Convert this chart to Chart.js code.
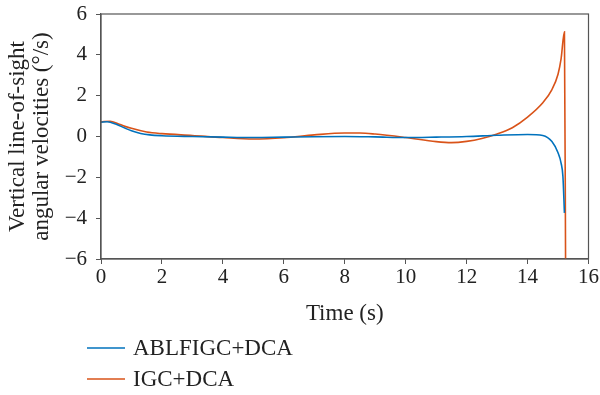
<!DOCTYPE html>
<html>
<head>
<meta charset="utf-8">
<script src="https://cdn.jsdelivr.net/npm/chart.js@4"></script>
<style>
  html, body { margin: 0; padding: 0; background: #fff; }
  #wrap { width: 600px; height: 395px; position: relative; }
</style>
</head>
<body>
<div id="wrap"><canvas id="chart" width="600" height="395"></canvas></div>
<script>
// time (s) and vertical LOS angular velocity (deg/s)
const tBlue = [0, 0.2, 0.5, 0.8, 1.0, 1.3, 1.6, 2, 3, 4, 5, 6, 7, 8, 9, 10, 11, 12, 13, 14, 14.5, 14.8, 15.0, 15.1, 15.16, 15.21];
const vBlue = [0.7, 0.72, 0.6, 0.4, 0.28, 0.15, 0.08, 0.04, 0.0, -0.03, -0.05, -0.03, -0.01, 0.0, -0.02, -0.05, -0.03, 0.0, 0.06, 0.1, 0.05, -0.25, -0.8, -1.3, -1.95, -3.74];

const tOrange = [0, 0.3, 0.6, 1.0, 1.5, 2, 3, 4, 5, 6, 7, 8, 8.5, 9, 10, 11, 11.5, 12, 12.5, 13, 13.5, 14, 14.5, 14.8, 15.0, 15.1, 15.21, 15.25];
const vOrange = [0.72, 0.75, 0.6, 0.4, 0.22, 0.14, 0.05, -0.05, -0.12, -0.06, 0.08, 0.17, 0.17, 0.12, -0.05, -0.25, -0.3, -0.24, -0.1, 0.12, 0.43, 0.95, 1.65, 2.3, 3.05, 3.8, 5.13, -7];

const seriesNames = ['ABLFIGC+DCA', 'IGC+DCA'];
const seriesColors = ['#0072BD', '#D95319'];
const xTitle = 'Time (s)';
const yTitle = ['Vertical line-of-sight', 'angular velocities (°/s)'];

const FONT = "'Liberation Serif', 'DejaVu Serif', serif";
const AXIS = '#555';

function pts(t, v) { return t.map((x, i) => ({ x: x, y: v[i] })); }

// box around the plot + legend in a column under the axis
const boxLegend = {
    id: 'boxLegend',
    afterDraw(chart) {
        const ctx = chart.ctx, a = chart.chartArea;
        ctx.save();
        ctx.strokeStyle = AXIS;
        ctx.lineWidth = 1.2;
        ctx.strokeRect(a.left, a.top, a.right - a.left, a.bottom - a.top);

        ctx.font = '23px ' + FONT;
        ctx.textBaseline = 'middle';
        ctx.fillStyle = '#222';
        chart.data.datasets.forEach((ds, i) => {
            const y = 348 + i * 31;
            ctx.strokeStyle = ds.borderColor;
            ctx.lineWidth = 1.5;
            ctx.beginPath();
            ctx.moveTo(87, y);
            ctx.lineTo(125, y);
            ctx.stroke();
            ctx.fillText(ds.label, 133, y + 1);
        });
        ctx.restore();
    }
};

new Chart(document.getElementById('chart').getContext('2d'), {
    type: 'line',
    data: {
        datasets: [
            { label: seriesNames[0], data: pts(tBlue, vBlue), borderColor: seriesColors[0], borderWidth: 1.6, pointRadius: 0, cubicInterpolationMode: 'monotone' },
            { label: seriesNames[1], data: pts(tOrange, vOrange), borderColor: seriesColors[1], borderWidth: 1.6, pointRadius: 0, cubicInterpolationMode: 'monotone' }
        ]
    },
    options: {
        responsive: false,
        animation: false,
        layout: { padding: { top: 1, right: 11, bottom: 67, left: 0 } },
        plugins: { legend: { display: false }, tooltip: { enabled: false } },
        scales: {
            x: {
                type: 'linear', min: 0, max: 16,
                afterFit: s => { s.height = 69; },
                grid: { drawOnChartArea: false, drawTicks: true, tickLength: 5, color: AXIS },
                border: { color: AXIS, width: 1.2 },
                ticks: { stepSize: 2, color: '#222', font: { family: FONT, size: 21 }, padding: 1, maxRotation: 0 },
                title: { display: true, text: xTitle, color: '#222', font: { family: FONT, size: 23 }, padding: { top: 2, bottom: 0 } }
            },
            y: {
                type: 'linear', min: -6, max: 6,
                afterFit: s => { s.width = 101; s.paddingTop = 14; },
                grid: { drawOnChartArea: false, drawTicks: true, tickLength: 5, color: AXIS },
                border: { color: AXIS, width: 1.2 },
                ticks: { stepSize: 2, color: '#222', font: { family: FONT, size: 21, lineHeight: 0.8 }, padding: 9,
                         callback: v => String(v).replace('-', '\u2212') },
                title: { display: true, text: yTitle, color: '#222', font: { family: FONT, size: 23, lineHeight: 1.05 }, padding: { top: 6, bottom: 4 } }
            }
        }
    },
    plugins: [boxLegend]
});
</script>
</body>
</html>
